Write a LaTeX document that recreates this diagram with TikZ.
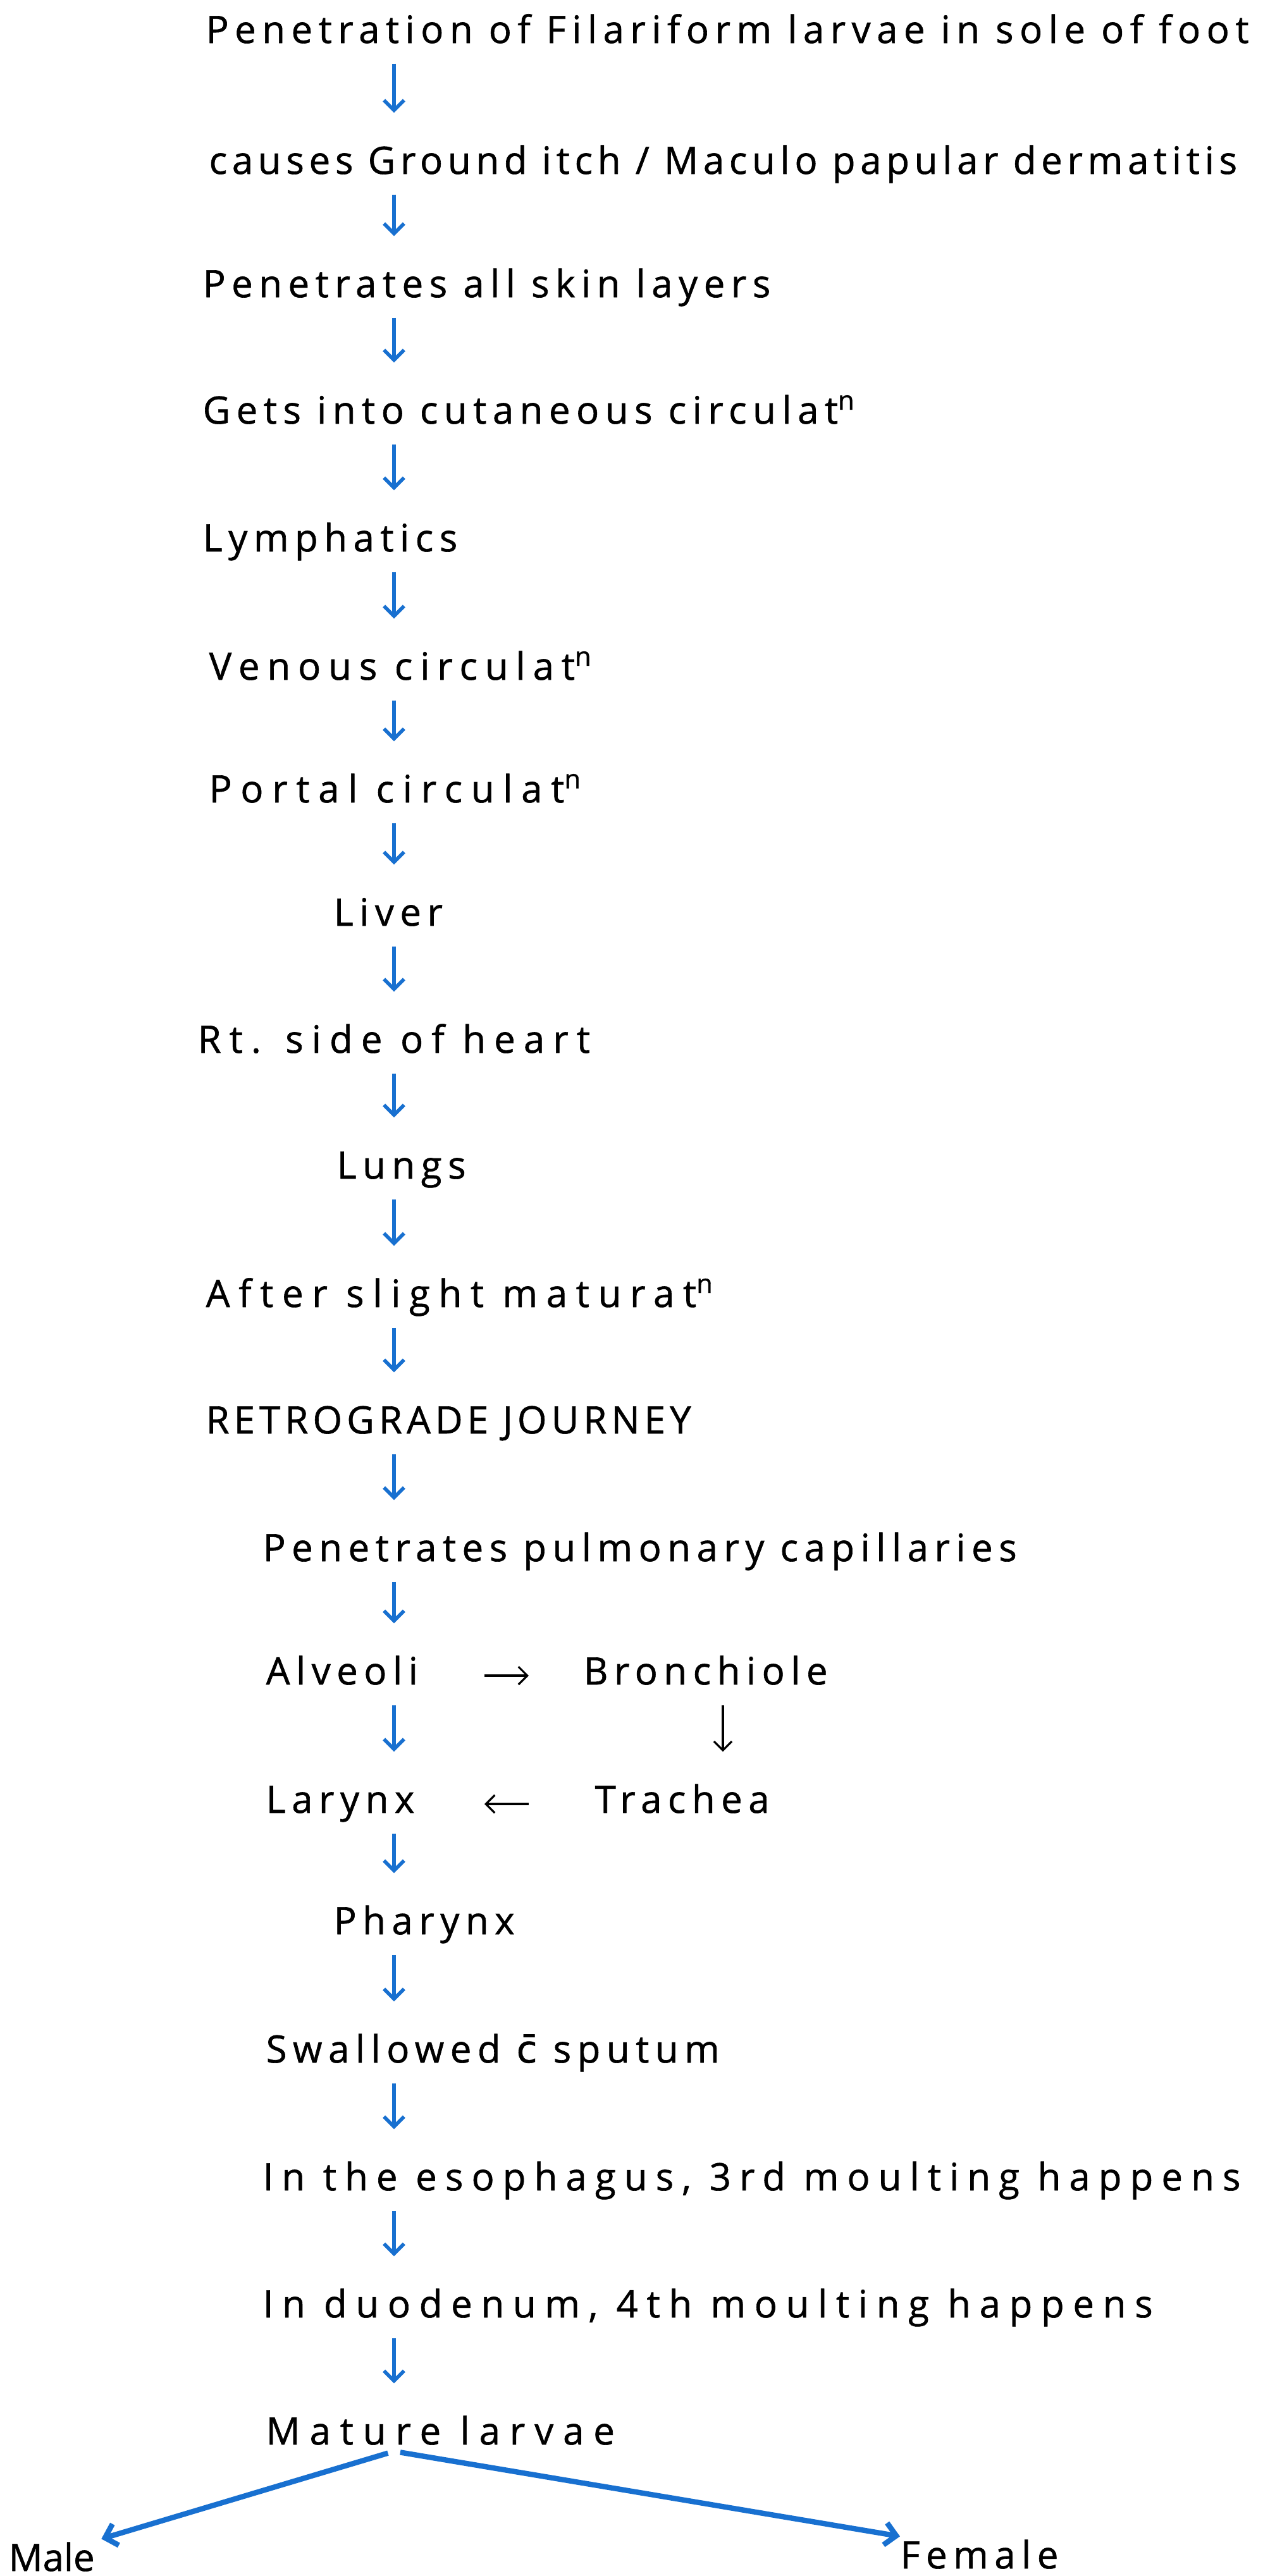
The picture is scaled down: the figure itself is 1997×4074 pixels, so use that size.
\documentclass[tikz,border=0pt]{standalone}
\usepackage{fontspec}
\setmainfont{Open Sans}[LetterSpace=16, FakeBold=1]
\newfontfamily\accfont{DejaVu Sans}[FakeBold=1]
\usetikzlibrary{arrows.meta, positioning, calc}
\definecolor{penblue}{RGB}{24,112,208}

\begin{document}
\begin{tikzpicture}[x=0.01cm, y=-0.01cm,
  stage/.style={anchor=base west, inner sep=0pt, text height=0.38cm, text depth=0.1cm,
    font=\fontsize{17}{20}\selectfont},
  spaced/.style={font=\fontsize{17}{20}\selectfont\addfontfeature{LetterSpace=#1}},
  flow/.style={penblue, line width=1.6pt, -{Straight Barb[length=4.5pt, width=9pt]},
    shorten <=0.22cm, shorten >=0.58cm},
  plain/.style={black, line width=0.9pt, -{Straight Barb[length=4pt, width=8pt]}},
  branch/.style={penblue, line width=2.4pt, -{Straight Barb[length=5pt, width=10pt]}}]
  \useasboundingbox (0,0) rectangle (1997,4074);
  \coordinate (col) at (623,0);
  \coordinate (bcol) at (1143,0);
  \coordinate (gapl) at (766,0);
  \coordinate (gapr) at (836,0);

  % main chain
  \node[stage] (sole)    at (325,68)   {Penetration of Filariform larvae in sole of foot};
  \node[stage, spaced=13] (itch) at (330,275) {causes Ground itch / Maculo papular dermatitis};
  \node[stage] (skin)    at (320,470)  {Penetrates all skin layers};
  \node[stage] (cutan)   at (320,670)  {Gets into cutaneous circulat\textsuperscript{n}};
  \node[stage] (lymph)   at (320,872)  {Lymphatics};
  \node[stage, spaced=20] (venous) at (330,1075) {Venous circulat\textsuperscript{n}};
  \node[stage, spaced=23] (portal) at (330,1269) {Portal circulat\textsuperscript{n}};
  \node[stage] (liver)   at (527,1464) {Liver};
  \node[stage, spaced=22] (heart) at (312,1665) {Rt. side of heart};
  \node[stage] (lungs)   at (532,1864) {Lungs};
  \node[stage, spaced=23] (matur) at (325,2067) {After slight maturat\textsuperscript{n}};
  \node[stage, spaced=12] (retro) at (325,2267) {RETROGRADE JOURNEY};
  \node[stage] (pulm)    at (415,2469) {Penetrates pulmonary capillaries};
  \node[stage] (alveoli) at (420,2664) {Alveoli};
  \node[stage] (bronch)  at (922,2664) {Bronchiole};
  \node[stage] (larynx)  at (420,2867) {Larynx};
  \node[stage] (trachea) at (940,2867) {Trachea};
  \node[stage] (pharynx) at (527,3059) {Pharynx};
  \node[stage] (swallow) at (420,3262) {Swallowed {\accfont c̄} sputum};
  \node[stage, spaced=22] (esoph)  at (415,3464) {In the esophagus, 3rd moulting happens};
  \node[stage, spaced=23] (duoden) at (415,3665) {In duodenum, 4th moulting happens};
  \node[stage, spaced=25] (mature) at (420,3866) {Mature larvae};
  \node[stage, spaced=0]  (male)   at (13,4066)  {Male};
  \node[stage] (female)  at (1423,4062) {Female};

  % blue arrows down the column
  \foreach \a/\b in {sole/itch, itch/skin, skin/cutan, cutan/lymph, lymph/venous,
      venous/portal, portal/liver, liver/heart, heart/lungs, lungs/matur, matur/retro,
      retro/pulm, pulm/alveoli, alveoli/larynx, larynx/pharynx, pharynx/swallow,
      swallow/esoph, esoph/duoden, duoden/mature}
    \draw[flow] (\a.south -| col) -- (\b.north -| col);

  % round trip through the airway
  \draw[plain] (alveoli.east -| gapl) -- (bronch.west -| gapr);
  \draw[plain, shorten <=0.22cm, shorten >=0.58cm] (bronch.south -| bcol) -- (trachea.north -| bcol);
  \draw[plain] (trachea.west -| gapr) -- (larynx.east -| gapl);

  % split into the two sexes
  \draw[branch, shorten <=0.1cm] (mature.south -| col) -- ([xshift=0.1cm, yshift=0.12cm]male.north east);
  \draw[branch, shorten <=0.1cm] (mature.south -| col) -- ([yshift=0.12cm]female.north west);
\end{tikzpicture}
\end{document}
